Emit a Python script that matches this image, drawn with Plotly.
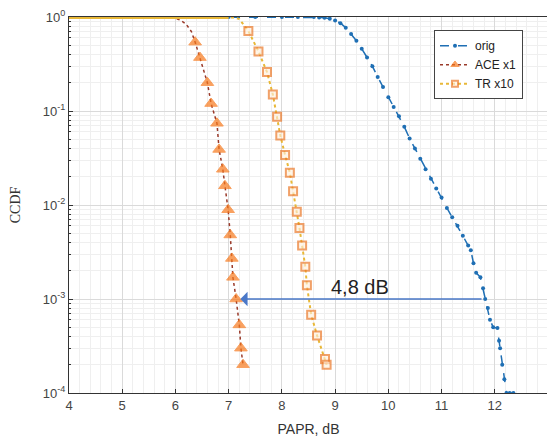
import plotly.graph_objects as go

# --- data ---
orig_x = [4.0, 5.0, 6.0, 7.0, 7.5, 8.0, 8.3, 8.6, 8.7, 8.8, 8.9, 9.0, 9.1, 9.2, 9.3, 9.4, 9.5,
          9.6, 9.7, 9.8, 9.9, 10.0, 10.1, 10.2, 10.3, 10.4, 10.5, 10.6, 10.7, 10.8, 10.9,
          11.0, 11.1, 11.2, 11.3, 11.4, 11.5, 11.55, 11.6, 11.65, 11.73, 11.78, 11.82,
          11.87, 11.91, 11.97, 12.05, 12.08, 12.1, 12.14, 12.18, 12.22, 12.28, 12.35]
orig_y = [1.0, 1.0, 1.0, 1.0, 1.0, 1.0, 1.0, 1.0, 0.99, 0.98, 0.96, 0.92, 0.86, 0.77, 0.66, 0.56, 0.46,
          0.37, 0.30, 0.23, 0.18, 0.14, 0.11, 0.088, 0.068, 0.051, 0.040, 0.031, 0.024, 0.019, 0.015,
          0.012, 0.0093, 0.0074, 0.0060, 0.0047, 0.0037, 0.0033, 0.0024, 0.0019, 0.0017, 0.0013, 0.0010,
          0.0008, 0.0006, 0.0005, 0.00049, 0.00036, 0.0003, 0.0002, 0.00014, 0.0001, 0.0001, 0.0001]

ace_x = [4.0, 5.0, 5.8, 5.9, 6.0, 6.1, 6.2, 6.3, 6.37, 6.46, 6.6, 6.67, 6.78, 6.82, 6.89, 6.93,
         6.99, 7.03, 7.06, 7.08, 7.14, 7.2, 7.23, 7.27]
ace_y = [1.0, 1.0, 1.0, 0.995, 0.97, 0.92, 0.84, 0.70, 0.54, 0.37, 0.20, 0.12, 0.074, 0.039, 0.024, 0.016,
         0.0089, 0.0048, 0.0027, 0.0017, 0.0010, 0.00053, 0.0003, 0.0002]

tr_x = [4.0, 5.0, 6.0, 7.0, 7.1, 7.2, 7.37, 7.56, 7.72, 7.83, 7.91, 7.97, 8.06, 8.15, 8.21, 8.28,
        8.33, 8.38, 8.44, 8.47, 8.55, 8.66, 8.81, 8.84]
tr_y = [1.0, 1.0, 1.0, 1.0, 0.99, 0.95, 0.71, 0.43, 0.26, 0.15, 0.087, 0.055, 0.034, 0.022, 0.014, 0.0085,
        0.0057, 0.0037, 0.0022, 0.0014, 0.00068, 0.00041, 0.00023, 0.0002]

x_ticks = [4, 5, 6, 7, 8, 9, 10, 11, 12, 13]
y_ticks = [1e-4, 1e-3, 1e-2, 1e-1, 1]
y_tick_text = ["10<sup>-4</sup>", "10<sup>-3</sup>", "10<sup>-2</sup>", "10<sup>-1</sup>", "10<sup>0</sup>"]

ORIG = "#1F6FB4"
ACE_LINE = "#9A3A2A"
ACE_MK = "#F7791C"
TR_LINE = "#E8B838"
TR_MK = "#EC7A2A"

fig = go.Figure()

fig.add_trace(go.Scatter(
    x=orig_x, y=orig_y, name="orig", mode="lines+markers",
    line=dict(color=ORIG, width=1.5, dash="dash"),
    marker=dict(color=ORIG, size=4, symbol="circle"),
))
fig.add_trace(go.Scatter(
    x=tr_x, y=tr_y, name="TR x10", mode="lines+markers",
    line=dict(color=TR_LINE, width=2, dash="dot"),
    marker=dict(color="rgba(255,240,220,0.9)", size=[0 if v > 0.8 else 8 for v in tr_y],
                symbol="square", line=dict(color=TR_MK, width=2)),
))
fig.add_trace(go.Scatter(
    x=ace_x, y=ace_y, name="ACE x1", mode="lines+markers",
    line=dict(color=ACE_LINE, width=1.5, dash="dot"),
    marker=dict(color=ACE_MK, size=[0 if v > 0.6 else 11 for v in ace_y], symbol="triangle-up",
                line=dict(color=ACE_MK, width=1)),
))
# thick flat top segment (overlapping curves at CCDF = 1)
fig.add_trace(go.Scatter(
    x=tr_x[:4], y=tr_y[:4], mode="lines", showlegend=False, hoverinfo="skip",
    line=dict(color=TR_LINE, width=4),
))

fig.add_annotation(
    x=7.22, y=-3, ax=11.78, ay=-3, xref="x", yref="y", axref="x", ayref="y",
    showarrow=True, arrowhead=1, arrowsize=1.6, arrowwidth=1.5, arrowcolor="#4A78C8", text="",
)
fig.add_annotation(
    x=9.47, y=-2.87, xref="x", yref="y", text="4,8 dB", showarrow=False,
    font=dict(family="Liberation Sans, Arial", size=20, color="#222"),
)

axis_common = dict(
    showline=True, linecolor="#333", linewidth=1, mirror=True,
    ticks="inside", ticklen=4, tickcolor="#333",
    gridcolor="#DADADA", gridwidth=1, zeroline=False, automargin=False,
    tickfont=dict(family="Liberation Sans, Arial", size=13, color="#444"),
)

fig.update_xaxes(
    range=[4, 13], tickvals=x_ticks, **axis_common,
    minor=dict(dtick=0.2, showgrid=True, gridcolor="#EFEFEF", ticks=""),
    title=dict(text="PAPR, dB", font=dict(family="Liberation Sans, Arial", size=14, color="#333"), standoff=12),
)
fig.update_yaxes(
    type="log", range=[-4, 0], tickvals=y_ticks, ticktext=y_tick_text, **axis_common,
    minor=dict(dtick="D1", showgrid=True, gridcolor="#EFEFEF", ticks="inside", ticklen=2),
    title=dict(text="CCDF", font=dict(family="Liberation Serif, Times New Roman", size=14, color="#333"), standoff=20),
)

# page body adds an 8px offset, so the figure is sized/positioned to compensate
fig.update_layout(
    width=547, height=430,
    margin=dict(l=61, r=7, t=9, b=45),
    paper_bgcolor="white", plot_bgcolor="white",
    legend=dict(
        x=0.762, y=0.965, xanchor="left", yanchor="top",
        bgcolor="white", bordercolor="#444", borderwidth=1,
        font=dict(family="Liberation Sans, Arial", size=12, color="#222"),
        traceorder="normal", itemwidth=30, tracegroupgap=0,
    ),
    showlegend=True,
)
# legend order: orig, ACE x1, TR x10
fig.data[0].legendrank = 1
fig.data[2].legendrank = 2
fig.data[1].legendrank = 3

fig.write_html("out.html")
